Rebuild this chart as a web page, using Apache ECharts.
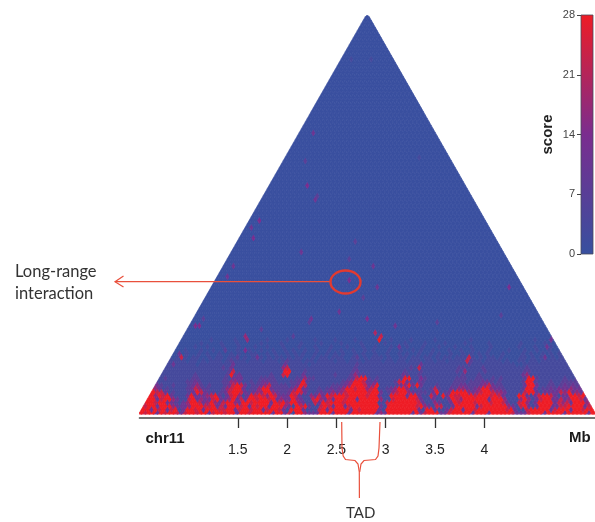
<!DOCTYPE html>
<html><head><meta charset="utf-8">
<style>html,body{margin:0;padding:0;background:#fff}#c{width:595px;height:522px;filter:blur(.45px)}</style>
<script src="https://cdn.jsdelivr.net/npm/echarts@6/dist/echarts.min.js"></script>
</head><body><div id="c"></div>
<script>
// Region labels
const xTicks = [1.5, 2, 2.5, 3, 3.5, 4];
const scaleTicks = [0, 7, 14, 21, 28];
const chromLabel = 'chr11', unitLabel = 'Mb', scaleLabel = 'score';
const binMb = 0.0405, startMb = 0.504, binCount = 114;
// score per legend digit
const digitScores = [0.5, 3, 7, 11, 14, 17, 20, 23, 26, 28];
// One string per distance row, near the diagonal first; 10 bins per group
const nearRows = [
"9799397997 3799799379 9799399799 9993993719 9533399939 9939999993 5399999939 3799933799 9993999399 9997333799 9399993999 9939999399",
"3993979379 1399793999 7799379979 9379973199 9311179399 9993979999 3199999999 3199311379 9399799999 9979311799 9993799939 9799399999",
"2799399953 3359997793 7399979397 9939995319 7931179739 9379999999 3199999997 9531771139 9999379999 9953179313 9993377999 9379993799",
"2399799332 1359973595 3799539979 9993979599 5311739799 9799999999 1179999999 7311531139 7999799979 9731179513 9999375739 9959799399",
"1199379953 1179353379 3359373997 9979353395 3117953739 9799399999 5117999997 3113111397 5999999399 9511159513 7993373599 7375993975",
"0199597931 1139333579 3137951397 9759733397 3115373979 9979999799 3119999399 3117319397 7999799979 7311199313 7997313399 7959379933",
"0029773121 1123973221 2379973235 5995322379 7311232353 5799999799 3125799532 2213912399 9953579975 5311127993 1333375935 3359953000",
"0005531211 1123752211 1257993122 5993222235 9321121232 3599799579 1123599511 2112721132 5532359953 3211112993 1223243353 3237733000",
"0000321121 1123521211 1237973122 3572222123 9711111122 2359997359 1111235939 3111211122 3322235732 2111113993 1122123232 2359722000",
"0000211111 1122321111 1225531121 2332211122 3921111111 1235997323 1111279321 3211111112 2212223321 2111112992 1112112222 2393312000",
"0000012111 1112211111 1213331111 2222111112 2522111111 1123799212 1111129911 4211111112 2211221121 2111112992 1111112111 2259212000",
"0000011111 1111211111 1129231111 1112117911 1311111112 1112522111 1111113211 2111111111 1211121111 1111113511 1111111111 1233112000",
"0000001111 1111111111 1127111111 1111119911 1211111111 1112311111 1111112111 2111111112 1511112111 1111112211 1111111111 1221111000",
"0000000111 1111111111 1213111111 1111115711 1111111111 1111211111 1111111121 7111111111 2211112111 1111111211 1111111111 1121111000",
"0000000131 1111011111 1113111111 1111113111 1101111111 1111211111 1111111111 3111111111 1121111111 1111001111 1111111112 1111111000",
"0000000011 1101101011 1012111011 1011101211 1011011110 1101110111 1011011011 1011011011 1172110111 1010011011 0111111121 1110000000",
"0000000001 7101100101 1011201011 1010110101 1001011011 1001201011 1010011011 0110101101 1171010110 1000011010 1001011212 1110000000",
"0000000000 3010010100 1001010011 0010100101 0100100101 0100101001 0010010100 1001010010 0101010100 0100001010 0101012121 1000000000",
"0000000000 0100010010 0100100100 1001001010 0100100100 1001001010 0010010010 1001000100 1001000100 0010001001 0010013121 0000000000",
"0000000000 0000100100 0100010001 0010001000 1000100010 0010001001 0001000100 0100010001 0001000010 0000010001 0001012111 0000000000",
"0000000000 0000010000 1000100000 1000010000 1000010000 1000010000 0100001000 0100001000 0100000100 0000010000 0100113110 0000000000",
"0000000000 0000000010 0000100000 0010000100 0000100001 0000100000 0001000010 0000100000 0001000000 0000000001 0000112100 0000000000"
];
// Faint score of the field beyond the near rows
const farRowScore = 0.4;
// Isolated enriched cells: [bin column, distance row, legend digit]
const spots = [
[30,55,4],[28,53,3],[28,50,4],[40,46,3],[23,42,3],[22,39,3],[52,38,4],[58,42,3],[54,49,2],[52,44,2],[59,36,3],[92,36,4],
[16,27,2],[14,25,4],[15,25,4],[27,21,5],[26,22,5],[26,18,4],[57,27,4],[59,23,6],[60,21,9],[60,22,7],[64,25,3],[65,19,3],
[82,16,7],[29,16,3],[50,29,3],[43,27,3],[42,26,2],[38,22,2],[21,18,2],[102,19,3],[103,21,3],[101,16,3],[44,61,3],
[43,80,3],[42,65,4],[41,72,2],[53,101,1],[58,101,1],[70,73,1],[8,14,3],[44,62,2],[30,24,2],[74,26,2],[90,28,2],[56,33,2]
];

const spotMap = {};
spots.forEach(s => { spotMap[s[0] + ',' + s[1]] = s[2]; });
const rowChars = nearRows.map(s => s.replace(/ /g, ''));
const cells = [];
for (let r = -1; r < binCount; r++) {
  for (let k = 0; k < binCount - r; k++) {
    const col = Math.round(k + r / 2);
    let score = farRowScore;
    const src = rowChars[Math.max(r, 0)];
    if (src) score = digitScores[+src[Math.min(col, src.length - 1)] || 0];
    const spot = spotMap[col + ',' + r];
    if (spot !== undefined) score = digitScores[spot];
    cells.push([startMb + (k + r / 2 + 0.5) * binMb, (r + 0.5) * binMb, score]);
  }
}

const chart = echarts.init(document.getElementById('c'), null, {renderer: 'canvas'});
const red = '#e9503c';
const sans = '"Liberation Sans", Arial, sans-serif';
function redLine(points, w) {
  return {type: 'polyline', z: 100, shape: {points}, style: {stroke: red, fill: null, lineWidth: w || 1.2}, silent: true};
}
function label(text, x, y, font, color, align) {
  return {type: 'text', z: 100, x, y, style: {text, font, fill: color, textAlign: align || 'left', textVerticalAlign: 'middle'}, silent: true};
}
chart.setOption({
  animation: false,
  grid: [
    {left: 139.5, top: 15, width: 455.5, height: 399.5},
    {left: 581, top: 15, width: 12, height: 239}
  ],
  xAxis: [
    {type: 'value', gridIndex: 0, min: startMb, max: startMb + binCount * binMb, offset: 3.5,
     splitLine: {show: false},
     axisLine: {show: true, onZero: false, lineStyle: {color: '#444', width: 1.6}},
     axisTick: {show: true, customValues: xTicks, length: 10, lineStyle: {color: '#333', width: 1.3}},
     axisLabel: {show: true, customValues: xTicks, margin: 25, color: '#222', fontSize: 14, fontFamily: sans}},
    {type: 'value', gridIndex: 1, min: 0, max: 1, show: false}
  ],
  yAxis: [
    {type: 'value', gridIndex: 0, min: 0, max: binCount * binMb, show: false},
    {type: 'value', gridIndex: 1, min: 0, max: 28, interval: 7, name: scaleLabel, nameLocation: 'middle', nameGap: 26, nameRotate: 90,
     nameTextStyle: {fontWeight: 'bold', fontSize: 15, color: '#222', fontFamily: sans},
     splitLine: {show: false},
     axisLine: {show: false},
     axisTick: {show: true, length: 4, lineStyle: {color: '#444'}},
     axisLabel: {margin: 6, fontSize: 11, color: '#444', fontFamily: sans}}
  ],
  visualMap: {show: false, seriesIndex: 0, dimension: 2, min: 0, max: 28, inRange: {color: ['#37509f', '#7a2d8f', '#ee1c25']}},
  series: [
    {type: 'custom', xAxisIndex: 0, yAxisIndex: 0, coordinateSystem: 'cartesian2d', data: cells, encode: {x: 0, y: 1}, silent: true, clip: true,
     progressive: 0, animation: false,
     renderItem(params, api) {
       const x = api.value(0), y = api.value(1);
       const pts = [[x - binMb / 2, y], [x, y + binMb], [x + binMb / 2, y], [x, y - binMb]].map(p => api.coord(p));
       const clipped = echarts.graphic.clipPointsByRect(pts, params.coordSys);
       const color = api.visual('color');
       return {type: 'polygon', shape: {points: clipped}, style: {fill: color, stroke: color, lineWidth: 0.7}};
     }},
    {type: 'custom', xAxisIndex: 1, yAxisIndex: 1, coordinateSystem: 'cartesian2d', data: [[0, 1, 0, 28]], silent: true,
     renderItem(params, api) {
       const a = api.coord([api.value(0), api.value(3)]), b = api.coord([api.value(1), api.value(2)]);
       return {type: 'rect', shape: {x: a[0], y: a[1], width: b[0] - a[0], height: b[1] - a[1]},
         style: {stroke: '#4a4a5a', lineWidth: 0.8,
           fill: new echarts.graphic.LinearGradient(0, 0, 0, 1, [
             {offset: 0, color: '#ee1c25'}, {offset: 0.5, color: '#7a2d8f'}, {offset: 1, color: '#37509f'}])}};
     }}
  ],
  graphic: {elements: [
    label(chromLabel, 145.5, 438.5, 'bold 15px ' + sans, '#1a1a1a'),
    label(unitLabel, 569, 438, 'bold 15px ' + sans, '#1a1a1a'),
    label('Long-range', 15, 272, '16.5px Lato, sans-serif', '#333'),
    label('interaction', 15, 294, '16.5px Lato, sans-serif', '#333'),
    label('TAD', 346, 513, '15px Lato, sans-serif', '#333'),
    redLine([[330, 281.7], [115, 281.7]], 1.2),
    redLine([[123.5, 276], [115, 281.7], [123.5, 287]], 1.2),
    {type: 'ellipse', z: 100, shape: {cx: 345.5, cy: 282, rx: 15, ry: 11.5}, style: {stroke: '#e23a30', fill: null, lineWidth: 2.4}, silent: true},
    redLine([[341.7, 422], [342, 448], [343.2, 456], [345.5, 459.5], [350, 460], [355, 460.5], [358, 464], [359.3, 472], [359.4, 498]]),
    redLine([[380, 422], [379, 448], [378, 456], [375.5, 459.5], [370, 460], [364, 460.5], [361, 464], [359.7, 472]])
  ]}
});
</script></body></html>
